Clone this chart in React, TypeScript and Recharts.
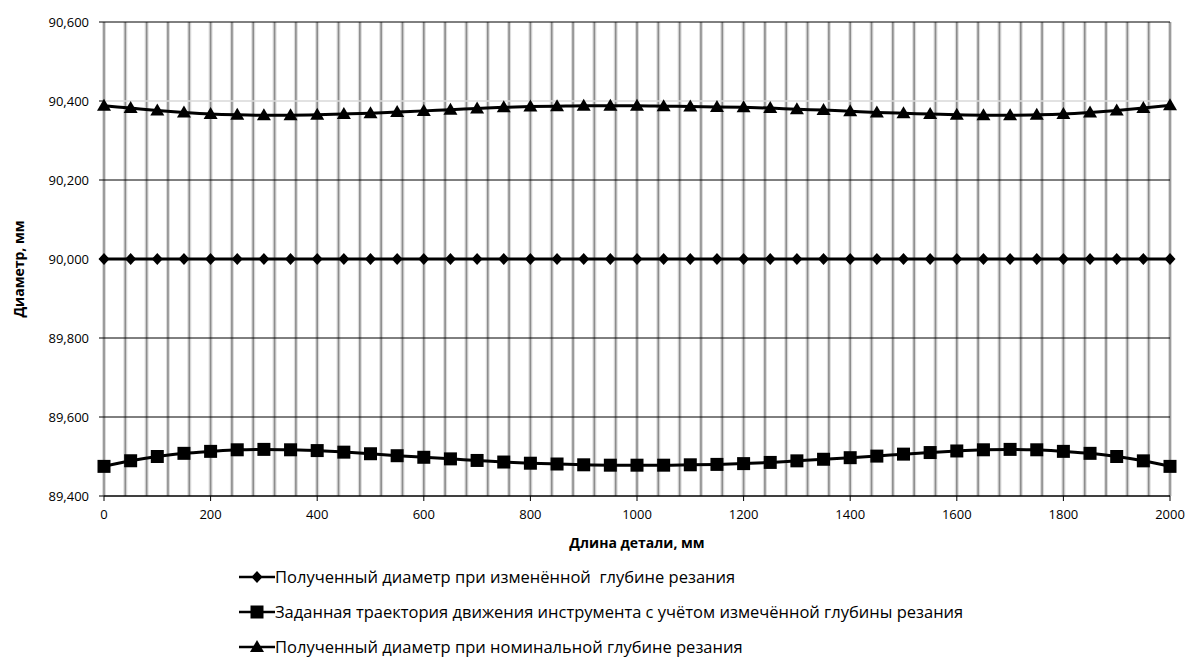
import React from 'react'
import { LineChart, Line, XAxis, YAxis, ReferenceLine } from 'recharts'

// Длина детали, мм
const X_VALUES = [
  0, 50, 100, 150, 200, 250, 300, 350, 400, 450, 500, 550, 600, 650, 700, 750, 800, 850, 900, 950,
  1000, 1050, 1100, 1150, 1200, 1250, 1300, 1350, 1400, 1450, 1500, 1550, 1600, 1650, 1700, 1750,
  1800, 1850, 1900, 1950, 2000,
]

// Полученный диаметр при изменённой глубине резания
const DIAMETER_CHANGED = [
  90.0, 90.0, 90.0, 90.0, 90.0, 90.0, 90.0, 90.0, 90.0, 90.0, 90.0, 90.0, 90.0, 90.0, 90.0, 90.0,
  90.0, 90.0, 90.0, 90.0, 90.0, 90.0, 90.0, 90.0, 90.0, 90.0, 90.0, 90.0, 90.0, 90.0, 90.0, 90.0,
  90.0, 90.0, 90.0, 90.0, 90.0, 90.0, 90.0, 90.0, 90.0,
]

// Заданная траектория движения инструмента
const TOOL_PATH = [
  89.475, 89.489, 89.5, 89.508, 89.513, 89.517, 89.518, 89.517, 89.515, 89.511, 89.507, 89.502,
  89.498, 89.494, 89.49, 89.486, 89.483, 89.481, 89.479, 89.478, 89.478, 89.478, 89.479, 89.48,
  89.482, 89.485, 89.489, 89.493, 89.497, 89.501, 89.506, 89.51, 89.514, 89.517, 89.518, 89.517,
  89.513, 89.508, 89.5, 89.489, 89.475,
]

// Полученный диаметр при номинальной глубине резания
const DIAMETER_NOMINAL = [
  90.388, 90.382, 90.376, 90.371, 90.367, 90.365, 90.364, 90.364, 90.365, 90.367, 90.369, 90.372,
  90.375, 90.378, 90.381, 90.384, 90.386, 90.387, 90.388, 90.388, 90.388, 90.387, 90.386, 90.385,
  90.384, 90.382, 90.379, 90.377, 90.374, 90.371, 90.369, 90.367, 90.365, 90.364, 90.364, 90.365,
  90.367, 90.371, 90.376, 90.382, 90.389,
]

const X_TICKS = [0, 200, 400, 600, 800, 1000, 1200, 1400, 1600, 1800, 2000]
const Y_TICKS = [89.4, 89.6, 89.8, 90.0, 90.2, 90.4, 90.6]
const X_GRID = Array.from({ length: 51 }, (_, i) => i * 40)

const SERIES_NAMES = [
  'Полученный диаметр при изменённой  глубине резания',
  'Заданная траектория движения инструмента с учётом измечённой глубины резания',
  'Полученный диаметр при номинальной глубине резания',
]

const data = X_VALUES.map((x, i) => ({
  x,
  changed: DIAMETER_CHANGED[i],
  path: TOOL_PATH[i],
  nominal: DIAMETER_NOMINAL[i],
}))

const FONT = '"Open Sans", "DejaVu Sans", sans-serif'

function markerPath(kind: string, cx: number, cy: number) {
  if (kind === 'diamond') return `M${cx},${cy - 6} L${cx + 5.5},${cy} L${cx},${cy + 6} L${cx - 5.5},${cy} Z`
  if (kind === 'square') return `M${cx - 6.5},${cy - 6.5} h13 v13 h-13 Z`
  return `M${cx},${cy - 7} L${cx + 7},${cy + 5} L${cx - 7},${cy + 5} Z`
}

const makeDot = (kind: string) => (props: any) => {
  const { cx, cy, index } = props
  if (cx == null || cy == null) return <g key={`${kind}-${index}`} />
  return <path key={`${kind}-${index}`} d={markerPath(kind, cx, cy)} fill="#000" />
}

const fmtY = (v: number) => v.toFixed(3).replace('.', ',')

function LegendIcon({ kind }: { kind: string }) {
  return (
    <svg width={36} height={16} style={{ display: 'block', flex: 'none' }}>
      <line x1={0} y1={8} x2={36} y2={8} stroke="#000" strokeWidth={2.5} />
      <path d={markerPath(kind, 18, 8)} fill="#000" />
    </svg>
  )
}

export default function App() {
  const kinds = ['diamond', 'square', 'triangle']
  return (
    <div style={{ position: 'absolute', left: 0, top: 0, width: 1187, height: 659, background: '#fff', fontFamily: FONT, overflow: 'hidden' }}>
      <LineChart width={1187} height={659} data={data} margin={{ top: 22, right: 17, left: 0, bottom: 133 }}>
        <XAxis
          dataKey="x"
          type="number"
          domain={[0, 2000]}
          ticks={X_TICKS}
          height={30}
          tickSize={5}
          tickMargin={9}
          stroke="#000"
          tick={{ fill: '#000', fontSize: 13, fontFamily: FONT }}
          label={{ value: 'Длина детали, мм', position: 'bottom', offset: 12, fill: '#000', fontSize: 14, fontWeight: 'bold', fontFamily: FONT }}
        />
        <YAxis
          type="number"
          domain={[89.4, 90.6]}
          ticks={Y_TICKS}
          width={104}
          tickSize={5}
          tickMargin={10}
          axisLine={false}
          stroke="#000"
          tickFormatter={fmtY}
          tick={{ fill: '#000', fontSize: 13, fontFamily: FONT }}
          label={{ value: 'Диаметр, мм', angle: -90, position: 'insideLeft', offset: 19, dy: 10, fill: '#000', fontSize: 14, fontWeight: 'bold', fontFamily: FONT, style: { textAnchor: 'middle' } }}
        />
        {X_GRID.map((g) => (
          <ReferenceLine key={`vh-${g}`} x={g} stroke="#dcdcdc" strokeWidth={4} />
        ))}
        {X_GRID.map((g) => (
          <ReferenceLine key={`v-${g}`} x={g} stroke="#8c8c8c" strokeWidth={1.6} />
        ))}
        {Y_TICKS.map((t) => (
          <ReferenceLine key={`h-${t}`} y={t} stroke={t === 90.4 ? '#d9d9d9' : '#000'} strokeWidth={t === 90.4 ? 1.5 : 1} />
        ))}
        <Line dataKey="changed" name={SERIES_NAMES[0]} type="monotone" stroke="#000" strokeWidth={3} dot={makeDot('diamond')} isAnimationActive={false} />
        <Line dataKey="path" name={SERIES_NAMES[1]} type="monotone" stroke="#000" strokeWidth={3} dot={makeDot('square')} isAnimationActive={false} />
        <Line dataKey="nominal" name={SERIES_NAMES[2]} type="monotone" stroke="#000" strokeWidth={3} dot={makeDot('triangle')} isAnimationActive={false} />
      </LineChart>
      <div style={{ position: 'absolute', left: 239, top: 559 }}>
        {SERIES_NAMES.map((n, i) => (
          <div key={n} style={{ display: 'flex', alignItems: 'center', height: 35, whiteSpace: 'pre' }}>
            <LegendIcon kind={kinds[i]} />
            <span style={{ fontSize: 16.5, color: '#000', lineHeight: '20px' }}>{n}</span>
          </div>
        ))}
      </div>
    </div>
  )
}
